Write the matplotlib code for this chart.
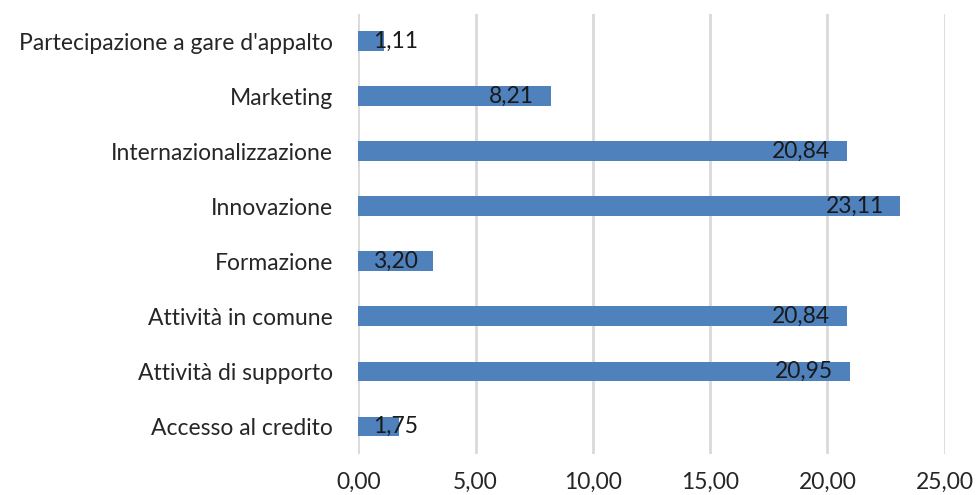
import numpy as np
import matplotlib.pyplot as plt

# dati (dal basso verso l'alto)
categorie = ["Accesso al credito", "Attività di supporto", "Attività in comune",
             "Formazione", "Innovazione", "Internazionalizzazione",
             "Marketing", "Partecipazione a gare d'appalto"]
valori = [1.75, 20.95, 20.84, 3.20, 23.11, 20.84, 8.21, 1.11]
xticks = [0, 5, 10, 15, 20, 25]

plt.rcParams['font.family'] = ['Lato', 'DejaVu Sans']

fig = plt.figure(figsize=(9.76, 4.95), dpi=100)
ax = fig.add_axes([0.367, 0.083, 0.601, 0.889])

y = np.arange(len(categorie))
ax.barh(y, valori, height=0.36, color='#4F81BD', zorder=3)

ax.set_xlim(0, 25)
ax.set_ylim(-0.5, len(categorie) - 0.5)
ax.set_yticks(y)
ax.set_yticklabels(categorie, fontsize=16.5, color='#262626')
ax.set_xticks(xticks)
ax.set_xticklabels([f"{t:.2f}".replace('.', ',') for t in xticks], fontsize=16.5, color='#262626')
ax.tick_params(axis='both', length=0)
ax.tick_params(axis='y', pad=18)
ax.tick_params(axis='x', pad=13)

ax.grid(axis='x', color='#D9D9D9', linewidth=2, zorder=0)
for s in ax.spines.values():
    s.set_visible(False)

# etichette dei valori (barre corte: testo ancorato all'inizio)
for yi, v in zip(y, valori):
    txt = f"{v:.2f}".replace('.', ',')
    if v < 3.5:
        ax.annotate(txt, (0, yi), xytext=(11, 0), textcoords='offset points',
                    ha='left', va='center', fontsize=16.5, color='#1a1a1a', zorder=4)
    else:
        ax.annotate(txt, (v, yi), xytext=(-12, 0), textcoords='offset points',
                    ha='right', va='center', fontsize=16.5, color='#1a1a1a', zorder=4)

fig.savefig("out.png", dpi=100)
